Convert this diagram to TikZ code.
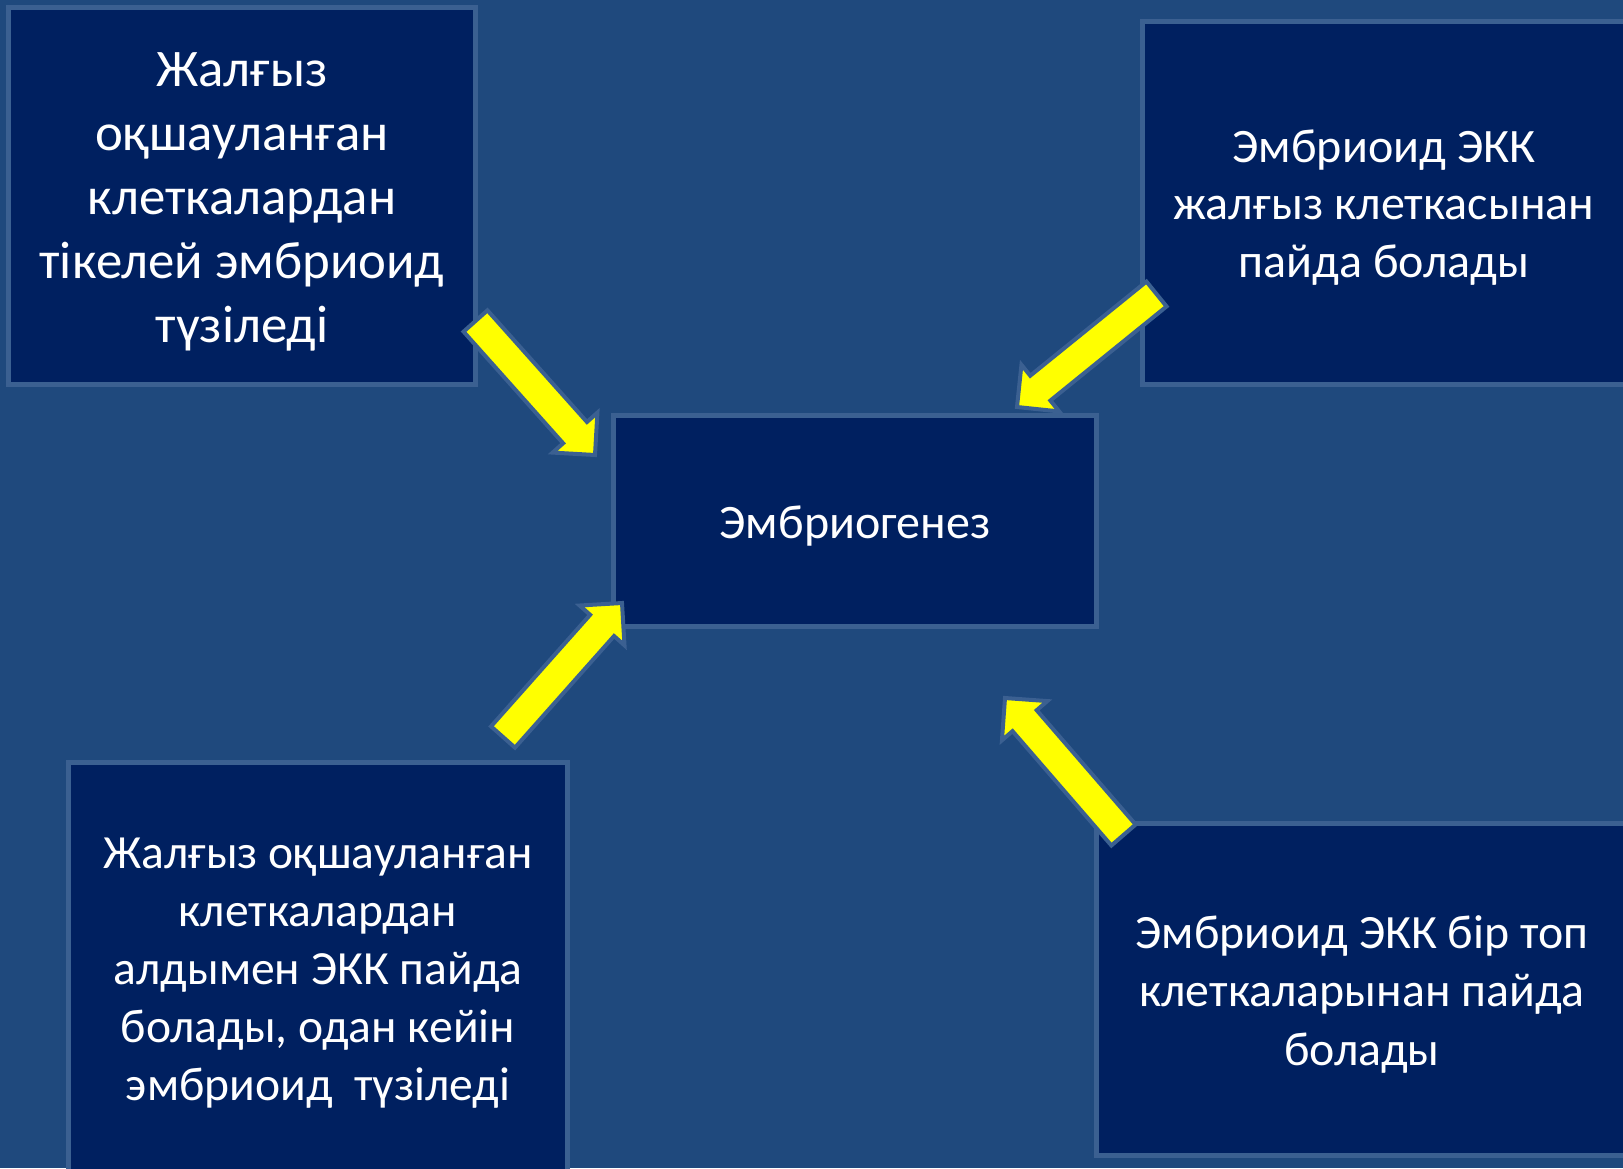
\documentclass[tikz,border=0pt]{standalone}
\usepackage{fontspec}
\setmainfont{Carlito}
\usetikzlibrary{calc}
\definecolor{bg}{HTML}{1F497D}
\definecolor{boxfill}{HTML}{002060}
\definecolor{edge}{HTML}{3B6091}
\definecolor{arrowyellow}{HTML}{FFFF00}
\tikzset{
  box/.style={rectangle, draw=edge, line width=5pt, fill=boxfill, inner sep=0pt, outer sep=0pt},
  label/.style={text=white, align=center, anchor=base, inner sep=0pt},
  blockarrow/.style={draw=edge, line width=4pt, line join=miter, fill=arrowyellow}
}
\newcommand\myblockarrow[2]{%
  \coordinate (#1h) at ($(#2)!30pt!(#1)$);
  \filldraw[blockarrow]
    ($(#1)!16pt!90:(#2)$) -- ($(#1h)!16pt!90:(#2)$) -- ($(#1h)!30pt!90:(#2)$) --
    (#2) --
    ($(#1h)!30pt!-90:(#2)$) -- ($(#1h)!16pt!-90:(#2)$) -- ($(#1)!16pt!-90:(#2)$) -- cycle;}
\begin{document}
\begin{tikzpicture}[x=1pt,y=-1pt]
\useasboundingbox (0,0) rectangle (1623,1168);
\clip (0,0) rectangle (1623,1168);
\fill[bg] (0,0) rectangle (1623,1168);

% boxes
\node[box, minimum width=467pt, minimum height=377pt] (b1) at (242,196) {};
\node[box, minimum width=483.5pt, minimum height=363pt] (b2) at (1384.25,203) {};
\node[box, minimum width=483pt, minimum height=211pt] (bc) at (855,521) {};
\node[box, minimum width=499pt, minimum height=467.5pt] (b3) at (318,996.25) {};
\node[box, minimum width=543.5pt, minimum height=332pt] (b4) at (1368.25,989.5) {};

% texts (anchor = baseline of the last line)
\node[label, font={\fontsize{52.8}{64}\selectfont}] (t1) at (242,342)
  {Жалғыз\\оқшауланған\\клеткалардан\\тікелей эмбриоид\\түзіледі};
\node[label, font={\fontsize{48}{57.5}\selectfont}] (t2) at (1384,277)
  {Эмбриоид ЭКК\\жалғыз клеткасынан\\пайда болады};
\node[label, font={\fontsize{48}{58}\selectfont}] (tc) at (855,538) {Эмбриогенез};
\node[label, font={\fontsize{47.6}{58}\selectfont}] (t3) at (318,1100)
  {Жалғыз оқшауланған\\клеткалардан\\алдымен ЭКК пайда\\болады, одан кейін\\эмбриоид\ \ түзіледі};
\node[label, font={\fontsize{47.8}{58.5}\selectfont}] (t4) at (1362,1065)
  {Эмбриоид ЭКК бір топ\\клеткаларынан пайда\\болады};

% arrows
\coordinate (a1s) at (475.5,321);  \coordinate (a1t) at (595,455);
\coordinate (a2s) at (1156.5,294); \coordinate (a2t) at (1017,407);
\coordinate (a3s) at (503,737);    \coordinate (a3t) at (622,603);
\coordinate (a4s) at (1123.5,835); \coordinate (a4t) at (1005,698);
\myblockarrow{a1s}{a1t}
\myblockarrow{a2s}{a2t}
\myblockarrow{a3s}{a3t}
\myblockarrow{a4s}{a4t}
\end{tikzpicture}
\end{document}
